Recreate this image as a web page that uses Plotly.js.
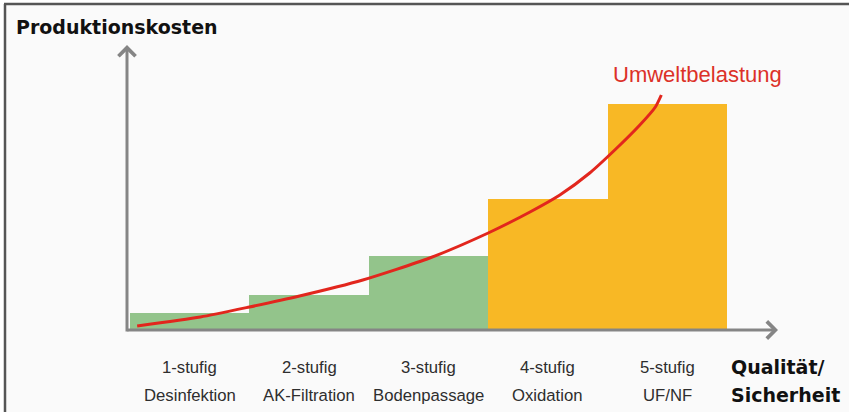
<!DOCTYPE html>
<html><head><meta charset="utf-8">
<script src="https://cdn.plot.ly/plotly-3.0.1.min.js"></script>
<style>html,body{margin:0;padding:0;background:#fff}#chart{width:849px;height:412px}</style>
</head><body><div id="chart"></div>
<script>
// Data
const stages = [1, 2, 3, 4, 5];
const stageLabels = ['1-stufig', '2-stufig', '3-stufig', '4-stufig', '5-stufig'];
const processLabels = ['Desinfektion', 'AK-Filtration', 'Bodenpassage', 'Oxidation', 'UF/NF'];
const costs = [1.7, 3.5, 7.4, 13.1, 22.6];
const barColors = ['#93c48b', '#93c48b', '#93c48b', '#f8b825', '#f8b825'];
const curveX = [0.56, 1.09, 1.5, 1.92, 2.45, 3.01, 3.5, 3.85, 4.1, 4.35, 4.56, 4.77, 4.9, 4.95];
const curveY = [0.4, 1.3, 2.3, 3.4, 5.0, 7.2, 9.7, 11.8, 13.5, 15.7, 18.0, 20.5, 22.3, 23.5];

const X0 = 0.475, X1 = 5.927, Y1 = 28.5;
const px = p => (p - 127) / 651;   // pixel -> paper x
const py = p => (330 - p) / 285;   // pixel -> paper y

const traces = [
  {type: 'bar', x: stages, y: costs, width: 1, marker: {color: barColors, line: {width: 0}}, hoverinfo: 'skip'},
  {type: 'scatter', mode: 'lines', x: curveX, y: curveY, line: {color: '#e2261d', width: 3, shape: 'spline', smoothing: 0.6}, hoverinfo: 'skip'}
];

const ann = [];
const regFont = {family: 'Liberation Sans, Arial, sans-serif', size: 16.7, color: '#2e2e2e'};
const boldFont = {family: 'DejaVu Sans, sans-serif', size: 19, color: '#111111'};
stages.forEach((s, i) => {
  ann.push({x: s, xref: 'x', y: py(367), yref: 'paper', text: stageLabels[i], showarrow: false, font: regFont, xanchor: 'center', yanchor: 'middle'});
  ann.push({x: s, xref: 'x', y: py(395), yref: 'paper', text: processLabels[i], showarrow: false, font: regFont, xanchor: 'center', yanchor: 'middle'});
});
ann.push({x: px(729), xref: 'paper', y: py(367), yref: 'paper', text: '<b>Qualität/</b>', showarrow: false, font: boldFont, xanchor: 'left', yanchor: 'middle'});
ann.push({x: px(729), xref: 'paper', y: py(395), yref: 'paper', text: '<b>Sicherheit</b>', showarrow: false, font: boldFont, xanchor: 'left', yanchor: 'middle'});
ann.push({x: px(14), xref: 'paper', y: py(27), yref: 'paper', text: '<b>Produktionskosten</b>', showarrow: false, font: boldFont, xanchor: 'left', yanchor: 'middle'});
ann.push({x: px(697), xref: 'paper', y: py(74), yref: 'paper', text: 'Umweltbelastung', showarrow: false, font: {family: 'Liberation Sans, Arial, sans-serif', size: 22, color: '#dc3128'}, xanchor: 'center', yanchor: 'middle'});
// axis arrows
ann.push({x: X0, y: Y1, xref: 'x', yref: 'y', ax: X0, ay: -0.3, axref: 'x', ayref: 'y', text: '', showarrow: true, arrowhead: 4, arrowsize: 1.1, arrowwidth: 3, arrowcolor: '#858585'});
ann.push({x: X1, y: 0, xref: 'x', yref: 'y', ax: X0 - 0.01, ay: 0, axref: 'x', ayref: 'y', text: '', showarrow: true, arrowhead: 4, arrowsize: 1.1, arrowwidth: 3, arrowcolor: '#858585'});

const shapes = [
  {type: 'rect', xref: 'paper', yref: 'paper', x0: px(5), x1: px(852), y0: py(415), y1: py(4), fillcolor: '#fafafa', line: {width: 0}, layer: 'below'},
  {type: 'line', xref: 'paper', yref: 'paper', x0: px(4), x1: px(852), y0: py(4), y1: py(4), line: {color: '#555555', width: 2.5}},
  {type: 'line', xref: 'paper', yref: 'paper', x0: px(5), x1: px(5), y0: py(4), y1: py(415), line: {color: '#555555', width: 2.5}}
];

const layout = {
  width: 849, height: 412,
  margin: {l: 127, r: 71, t: 45, b: 82},
  paper_bgcolor: '#ffffff', plot_bgcolor: 'rgba(0,0,0,0)',
  showlegend: false, bargap: 0,
  xaxis: {range: [X0, X1], showgrid: false, zeroline: false, showticklabels: false, showline: false, ticks: ''},
  yaxis: {range: [0, Y1], showgrid: false, zeroline: false, showticklabels: false, showline: false, ticks: ''},
  annotations: ann, shapes: shapes
};
Plotly.newPlot('chart', traces, layout, {displayModeBar: false, staticPlot: true});
</script></body></html>
